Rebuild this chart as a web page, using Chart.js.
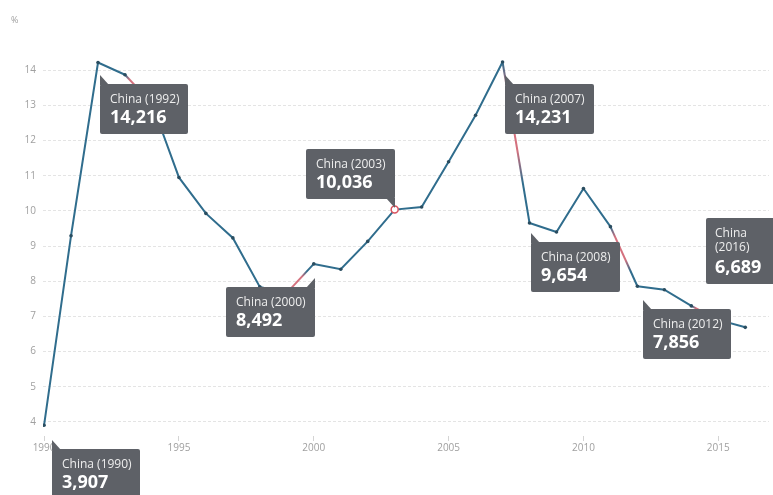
<!DOCTYPE html>
<html>
<head>
<meta charset="utf-8">
<script src="https://cdn.jsdelivr.net/npm/chart.js@4/dist/chart.umd.min.js"></script>
<style>
    html, body { margin: 0; padding: 0; background: #fff; }
    #wrap { position: relative; width: 773px; height: 495px; }
</style>
</head>
<body>
<div id="wrap"><canvas id="growthChart"></canvas></div>
<script>
    // Tăng trưởng GDP Trung Quốc (%), 1990 - 2016
    var years = [1990, 1991, 1992, 1993, 1994, 1995, 1996, 1997, 1998, 1999,
                 2000, 2001, 2002, 2003, 2004, 2005, 2006, 2007, 2008, 2009,
                 2010, 2011, 2012, 2013, 2014, 2015, 2016];
    var growth = [3.907, 9.294, 14.216, 13.868, 13.052, 10.949, 9.928, 9.231, 7.838, 7.667,
                  8.492, 8.340, 9.131, 10.036, 10.111, 11.396, 12.719, 14.231, 9.654, 9.400,
                  10.636, 9.551, 7.856, 7.758, 7.298, 6.900, 6.689];
    var xTicks = [1990, 1995, 2000, 2005, 2010, 2015];
    var yTicks = [4, 5, 6, 7, 8, 9, 10, 11, 12, 13, 14];
    var country = 'China';
    var calloutYears = [1990, 1992, 2000, 2003, 2007, 2008, 2012, 2016];
    var highlightYears = [2003];
    var redSegmentYears = [1993, 1999, 2007, 2011, 2014];

    var LINE_BLUE = '#306d8d';
    var LINE_RED = '#d4717e';
    var POINT_RED = '#d9535f';
    var BOX_GRAY = '#5e6167';

    // vị trí hộp chú thích so với điểm (dx, dy), kích thước và hướng mũi nhọn
    var calloutLayout = {
        1990: { dx: 8, dy: 24, w: 88, h: 52, tail: 'tl' },
        1992: { dx: 2, dy: 21, w: 88, h: 50, tail: 'tl' },
        2000: { dx: -88, dy: 23, w: 89, h: 50, tail: 'tr' },
        2003: { dx: -89, dy: -61, w: 89, h: 50, tail: 'br' },
        2007: { dx: 2, dy: 22, w: 89, h: 50, tail: 'tl' },
        2008: { dx: 1, dy: 19, w: 89, h: 50, tail: 'tl' },
        2012: { dx: 6, dy: 23, w: 88, h: 50, tail: 'tl' },
        2016: { dx: -39, dy: -109, w: 70, h: 66, tail: null, wrap: true }
    };

    var points = years.map(function (y, i) { return { x: y, y: growth[i] }; });

    function formatValue(v) {
        return v.toFixed(3).replace('.', ',');
    }

    function segmentColor(ctx) {
        var startYear = years[ctx.p0DataIndex];
        if (redSegmentYears.indexOf(startYear) === -1) return LINE_BLUE;
        var g = ctx.chart.ctx.createLinearGradient(ctx.p0.x, ctx.p0.y, ctx.p1.x, ctx.p1.y);
        g.addColorStop(0, LINE_BLUE);
        g.addColorStop(0.18, LINE_RED);
        g.addColorStop(0.55, LINE_RED);
        g.addColorStop(0.75, LINE_BLUE);
        g.addColorStop(1, LINE_BLUE);
        return g;
    }

    function drawTail(c, bx, by, w, h, tail) {
        c.beginPath();
        if (tail === 'tl') {
            c.moveTo(bx, by - 9); c.lineTo(bx, by + 1); c.lineTo(bx + 9, by + 1);
        } else if (tail === 'tr') {
            c.moveTo(bx + w, by - 9); c.lineTo(bx + w, by + 1); c.lineTo(bx + w - 9, by + 1);
        } else if (tail === 'br') {
            c.moveTo(bx + w, by + h + 9); c.lineTo(bx + w, by + h - 1); c.lineTo(bx + w - 9, by + h - 1);
        }
        c.closePath();
        c.fill();
    }

    // Vẽ các hộp chú thích "China (năm)" + giá trị
    var calloutPlugin = {
        id: 'callouts',
        afterDatasetsDraw: function (chart) {
            var c = chart.ctx;
            var xs = chart.scales.x, ys = chart.scales.y;
            c.save();
            // ký hiệu đơn vị
            c.fillStyle = '#a0a0a0';
            c.font = '9px "Open Sans"';
            c.textBaseline = 'alphabetic';
            c.fillText('%', 11, 23);

            calloutYears.forEach(function (yr) {
                var i = years.indexOf(yr);
                var lay = calloutLayout[yr];
                var px = xs.getPixelForValue(yr);
                var py = ys.getPixelForValue(growth[i]);
                var bx = Math.round(px + lay.dx), by = Math.round(py + lay.dy);
                c.fillStyle = BOX_GRAY;
                c.beginPath();
                c.roundRect(bx, by, lay.w, lay.h, 2);
                c.fill();
                if (lay.tail) drawTail(c, bx, by, lay.w, lay.h, lay.tail);

                c.fillStyle = '#eeeeee';
                c.font = '12px "Open Sans"';
                if (lay.wrap) {
                    c.fillText(country, bx + 9, by + 19);
                    c.fillText('(' + yr + ')', bx + 9, by + 33);
                    c.fillStyle = '#ffffff';
                    c.font = 'bold 18px "Open Sans"';
                    c.fillText(formatValue(growth[i]), bx + 9, by + 55);
                } else {
                    c.fillText(country + ' (' + yr + ')', bx + 10, by + 19);
                    c.fillStyle = '#ffffff';
                    c.font = 'bold 18px "Open Sans"';
                    c.fillText(formatValue(growth[i]), bx + 10, by + 39);
                }
            });
            c.restore();
        }
    };

    var ctx = document.getElementById('growthChart').getContext('2d');
    var growthChart = new Chart(ctx, {
        type: 'line',
        data: {
            datasets: [{
                label: country,
                data: points,
                borderColor: LINE_BLUE,
                borderWidth: 2,
                tension: 0,
                fill: false,
                segment: { borderColor: segmentColor },
                pointRadius: function (c) {
                    return highlightYears.indexOf(years[c.dataIndex]) !== -1 ? 3.5 : 1.8;
                },
                pointBackgroundColor: function (c) {
                    return highlightYears.indexOf(years[c.dataIndex]) !== -1 ? '#ffffff' : '#2a4d60';
                },
                pointBorderColor: function (c) {
                    return highlightYears.indexOf(years[c.dataIndex]) !== -1 ? POINT_RED : '#2a4d60';
                },
                pointBorderWidth: function (c) {
                    return highlightYears.indexOf(years[c.dataIndex]) !== -1 ? 1.5 : 0;
                }
            }]
        },
        options: {
            responsive: true,
            maintainAspectRatio: false,
            animation: false,
            layout: { padding: { top: 55, right: 0, left: 0, bottom: 0 } },
            plugins: {
                legend: { display: false },
                tooltip: { enabled: false }
            },
            scales: {
                x: {
                    type: 'linear',
                    min: 1989.96,
                    max: 2016.88,
                    afterBuildTicks: function (scale) {
                        scale.ticks = xTicks.map(function (v) { return { value: v }; });
                    },
                    afterFit: function (scale) { scale.height = 59; },
                    grid: {
                        drawOnChartArea: false,
                        drawTicks: true,
                        tickLength: 5,
                        color: '#d4d4d4'
                    },
                    border: { display: false },
                    ticks: {
                        padding: 1,
                        maxRotation: 0,
                        color: '#a0a0a0',
                        font: { family: 'Open Sans', size: 10 },
                        callback: function (v) { return String(v); }
                    }
                },
                y: {
                    min: 3.6,
                    max: 14.43,
                    afterBuildTicks: function (scale) {
                        scale.ticks = yTicks.map(function (v) { return { value: v }; });
                    },
                    afterFit: function (scale) { scale.width = 43; },
                    grid: {
                        drawTicks: false,
                        color: '#e4e4e4',
                        lineWidth: 1
                    },
                    border: { display: false, dash: [3, 2] },
                    ticks: {
                        padding: 7,
                        color: '#a0a0a0',
                        font: { family: 'Open Sans', size: 10 },
                        callback: function (v) { return String(v); }
                    }
                }
            }
        },
        plugins: [calloutPlugin]
    });
</script>
</body>
</html>
